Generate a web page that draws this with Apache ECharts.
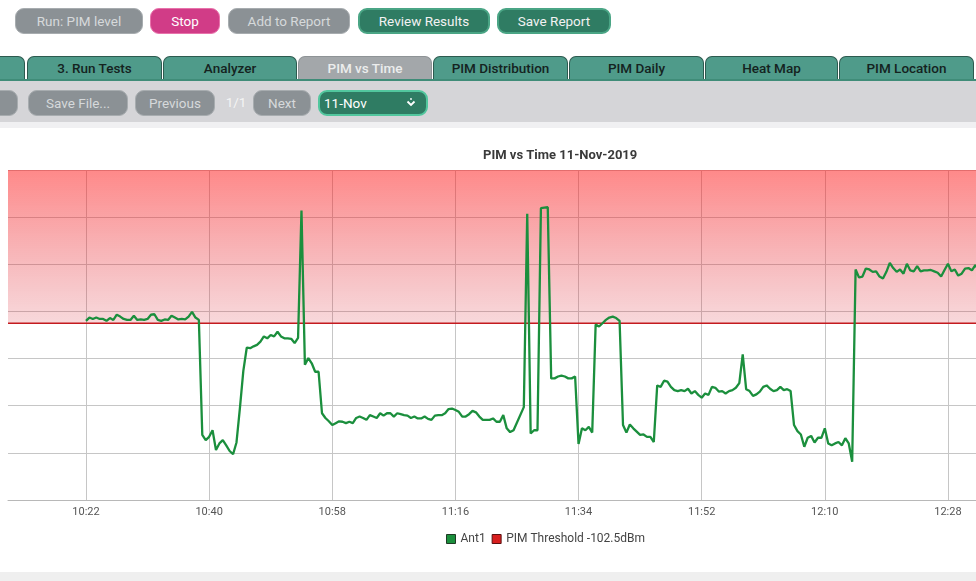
<!DOCTYPE html>
<html>
<head>
<meta charset="utf-8">
<script src="https://cdn.jsdelivr.net/npm/echarts@6/dist/echarts.min.js"></script>
<style>
body{margin:0;background:#fff;font-family:Roboto,'Noto Sans',Arial,sans-serif;}
#page{position:relative;width:976px;height:581px;overflow:hidden;background:#fff}
.b{position:absolute;box-sizing:border-box;height:26px;line-height:24px;border-radius:9px;text-align:center;font-size:13.5px;white-space:nowrap}
.g{background:#8b9195;color:#d6d9db;border:1px solid #a7acaf}
.m{background:#d13c87;color:#fff;border:1px solid #e872ab}
.t{background:#2f7c63;color:#f2f2f2;border:2px solid #4aa585;line-height:22px}
.tab{position:absolute;top:56px;height:23px;line-height:22px;box-sizing:border-box;border:1.5px solid #2d5a4f;border-bottom:none;border-radius:7px 7px 0 0;background:#4f9b8a;color:#15231f;font-size:13.5px;text-align:center;font-weight:500;white-space:nowrap;overflow:hidden}
.tab.on{background:#a3a7aa;color:#eceded;border-color:#8e9396}
#bar{position:absolute;left:0;top:79px;width:976px;height:43px;background:#d5d5d8;border-top:2px solid #3f8c78;box-sizing:border-box}
#strip{position:absolute;left:0;top:122px;width:976px;height:6px;background:#f0f0f2}
#foot{position:absolute;left:0;top:572px;width:976px;height:9px;background:#efefef}
#chart{position:absolute;left:0;top:130px;width:976px;height:440px}
.dd{position:absolute;left:318px;top:90px;width:110px;height:26px;box-sizing:border-box;border-radius:9px;background:#2f7c63;border:2px solid #52c79e;color:#fff;font-size:13.5px;line-height:22px;padding-left:4px}
</style>
</head>
<body>
<div id="page">
  <div class="b g" style="left:15px;top:8px;width:128px">Run: PIM level</div>
  <div class="b m" style="left:150px;top:8px;width:70px">Stop</div>
  <div class="b g" style="left:228px;top:8px;width:122px">Add to Report</div>
  <div class="b t" style="left:358px;top:8px;width:132px">Review Results</div>
  <div class="b t" style="left:497px;top:8px;width:114px">Save Report</div>

  <div class="tab" style="left:-110px;width:135px"></div>
  <div class="tab" style="left:27px;width:135px">3. Run Tests</div>
  <div class="tab" style="left:163px;width:134px">Analyzer</div>
  <div class="tab on" style="left:298px;width:134px">PIM vs Time</div>
  <div class="tab" style="left:433px;width:135px">PIM Distribution</div>
  <div class="tab" style="left:569px;width:135px">PIM Daily</div>
  <div class="tab" style="left:705px;width:133px">Heat Map</div>
  <div class="tab" style="left:839px;width:135px">PIM Location</div>

  <div id="bar"></div>
  <div class="b g" style="left:-60px;top:90px;width:78px"></div>
  <div class="b g" style="left:28px;top:90px;width:100px">Save File...</div>
  <div class="b g" style="left:135px;top:90px;width:80px">Previous</div>
  <div style="position:absolute;left:222px;top:90px;width:28px;height:26px;line-height:24px;color:#f4f4f4;font-size:13.5px;text-align:center">1/1</div>
  <div class="b g" style="left:253px;top:90px;width:58px">Next</div>
  <div class="dd">11-Nov
    <svg style="position:absolute;right:10px;top:6px" width="10" height="10" viewBox="0 0 10 10"><path d="M1.5 3.5 L5 7 L8.5 3.5" stroke="#fff" stroke-width="1.8" fill="none"/><circle cx="5" cy="1" r="0.9" fill="#fff"/></svg>
  </div>
  <div id="strip"></div>
  <div id="chart"></div>
  <div id="foot"></div>
</div>
<script>
// ---- data ----
const chartTitle = 'PIM vs Time 11-Nov-2019';
const seriesName = 'Ant1';
const thresholdDbm = -102.5;
const startTime = '10:22:00';   // first sample
const sampleSeconds = 30;       // logger sampling interval
const ant1Dbm = [
  -102.0, -101.3, -101.6, -101.3, -101.6, -101.6, -102.0, -101.4, -101.8, -100.7,
  -101.1, -101.6, -101.8, -101.8, -100.9, -101.8, -101.7, -101.8, -101.6, -100.7,
  -100.6, -101.8, -102.0, -101.7, -101.8, -100.9, -101.3, -101.7, -101.6, -101.7,
  -101.1, -100.1, -101.3, -101.8,
  -126.2, -127.3, -126.6, -125.2, -129.4, -128.0, -127.3, -128.4, -129.6, -130.3,
  -127.8, -120.5, -112.6, -107.7, -107.8, -107.4, -107.1, -106.4, -105.3, -105.7,
  -105.0, -105.3, -104.3,
  -105.3, -105.7, -105.7, -105.8, -106.7, -105.6, -78.6, -111.3, -109.9, -111.0, -112.8, -112.8,
  -121.6, -122.6, -123.3, -124.1, -123.7, -123.3, -123.4, -123.7, -123.4, -123.7,
  -122.6, -122.3, -122.6, -123.0, -122.0, -122.3, -122.6, -121.6, -122.1, -121.6,
  -121.6, -122.3, -121.6, -121.8, -122.0, -122.1, -122.6, -122.3, -122.7, -122.7,
  -122.3, -122.8, -123.0, -122.1, -122.0, -122.0, -121.6, -120.7, -120.6, -120.9,
  -121.3, -122.3, -122.3,
  -121.8, -121.1, -121.4, -122.3, -123.0, -123.0, -123.0, -122.7, -123.4, -123.4,
  -122.0, -124.8, -125.6, -125.2, null, null, -120.3, -79.3, -125.9, -125.2,
  -125.2, -78.1, -78.0, -77.9,
  -114.2, -114.2, -113.8, -113.6, -113.8, -114.2, -114.2, -113.8, -128.1, -124.8,
  -125.2, -124.5, -125.7, -102.8, -103.2, -102.5, -101.8, -101.3, -101.1, -101.4,
  -102.0, -124.1, -125.7, -124.0, -124.8, -125.5, -126.2, -126.1, -126.6, -126.6,
  -127.7,
  -115.7, -116.0, -114.7, -114.9, -116.0, -116.7, -116.9, -116.7, -116.9, -116.4,
  -117.4, -116.9, -117.7, -118.3, -117.4, -117.7, -116.0, -116.2, -117.0, -116.9,
  -117.4, -116.9, -116.7, -116.2, -115.2, -109.1, -116.5, -116.9, -117.9, -117.6,
  -117.0, -116.0, -115.7, -116.4, -116.9, -116.7, -116.0, -116.7, -116.5, -116.9,
  -124.1, -125.4, -126.1, -128.7, -126.8, -126.4, -127.8, -126.8, -126.8, -124.8,
  -128.0, -128.4, -128.0, -127.7, -128.4, -126.9, -128.0, -131.9, -91.1, -92.8,
  -92.6, -90.9, -91.1, -91.6, -91.5, -92.6, -93.0, -91.6, -89.7, -90.8,
  -91.6, -91.1, -92.0, -89.9, -91.3, -91.5, -90.4, -91.5, -91.3, -91.3,
  -91.2, -91.5, -91.8, -92.6, -91.2, -89.9, -91.5, -91.1, -92.4, -92.0,
  -90.9, -90.8, -91.3, -90.2, -91.1
];
const xTickLabels = ['10:22', '10:40', '10:58', '11:16', '11:34', '11:52', '12:10', '12:28'];
const viewStart = '10:10:36';
const viewEnd = '12:32:06';
const yMin = -140, yMax = -70, yStep = 10;

// ---- build ----
function toMin(s) { const p = s.split(':').map(Number); return p[0] * 60 + p[1] + (p[2] || 0) / 60; }
function fmt(m) { const h = Math.floor(m / 60), mm = Math.round(m - h * 60); return h + ':' + (mm < 10 ? '0' : '') + mm; }
const t0 = toMin(startTime);
const ant1Data = ant1Dbm.map((v, i) => [t0 + i * sampleSeconds / 60, v]);
const xMin = toMin(viewStart), xMax = toMin(viewEnd);
const tickVals = xTickLabels.map(toMin);
const thresholdName = 'PIM Threshold ' + thresholdDbm + 'dBm';

const chart = echarts.init(document.getElementById('chart'), null, { renderer: 'canvas' });
chart.setOption({
  animation: false,
  textStyle: { fontFamily: 'Roboto' },
  title: {
    text: chartTitle, left: 478, top: 14,
    textStyle: { fontSize: 13, fontWeight: 'bold', color: '#3a3a3a', fontFamily: 'Roboto' }
  },
  legend: {
    left: 441, top: 398, itemWidth: 9, itemHeight: 9, itemGap: 6,
    textStyle: { fontSize: 12, color: '#444', fontFamily: 'Roboto' },
    data: [
      { name: seriesName, icon: 'rect', itemStyle: { borderColor: '#1f3a25', borderWidth: 1 } },
      { name: thresholdName, icon: 'rect', itemStyle: { borderColor: '#5a1010', borderWidth: 1 } }
    ]
  },
  grid: { left: 8, right: 0, top: 40, bottom: 70 },
  xAxis: {
    type: 'value', min: xMin, max: xMax,
    axisLine: { lineStyle: { color: '#b8b8b8' } },
    axisTick: { show: false, customValues: tickVals },
    axisLabel: { customValues: tickVals, formatter: v => fmt(v), color: '#555', fontSize: 11, margin: 7 },
    splitLine: { show: true, lineStyle: { color: '#c6c6c6' } }
  },
  yAxis: {
    type: 'value', min: yMin, max: yMax, interval: yStep,
    axisLabel: { show: false }, axisLine: { show: false }, axisTick: { show: false },
    splitLine: { lineStyle: { color: '#c6c6c6' } }
  },
  series: [
    {
      name: seriesName, type: 'line', data: ant1Data, showSymbol: false, connectNulls: true,
      lineStyle: { color: '#1b8f3d', width: 2.3 }, itemStyle: { color: '#1b8f3d' }, z: 4
    },
    {
      name: thresholdName, type: 'line', data: [[xMin, thresholdDbm], [xMax, thresholdDbm]],
      showSymbol: false, lineStyle: { color: '#c41a1f', width: 1.5 }, itemStyle: { color: '#d81e1e' }, z: 3,
      markArea: {
        silent: true,
        itemStyle: {
          color: new echarts.graphic.LinearGradient(0, 0, 0, 1, [
            { offset: 0, color: 'rgba(255,20,20,0.5)' },
            { offset: 1, color: 'rgba(215,40,55,0.18)' }
          ])
        },
        data: [[{ yAxis: yMax }, { yAxis: thresholdDbm }]]
      }
    }
  ]
});
</script>
</body>
</html>
